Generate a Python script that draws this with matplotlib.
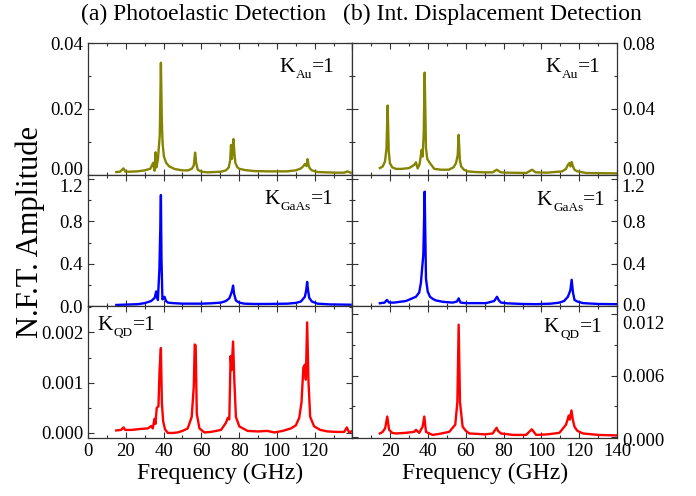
#N.F.T. spectra for the three sensitivity kernels, photoelastic vs displacement detection
import numpy as np
import matplotlib.pyplot as plt
from matplotlib.ticker import MultipleLocator, FormatStrFormatter
from matplotlib.transforms import ScaledTranslation

plt.rcParams.update({'font.family': 'Liberation Serif',
                     'font.size': 13.5})

# (a) photoelastic, K_Au=1
pe_au_f = [15, 17, 18.8, 19.8, 22, 26, 30, 33, 34.5, 35.2, 35.8, 36.2, 37, 38, 38.6, 39.1, 39.5, 40.2, 41.4, 43,
           46, 50, 53, 55, 56, 56.7, 57.3, 58.1, 60, 63.4, 67, 70.4, 73, 74.5, 75.3, 75.7, 76.2, 76.6, 77, 77.5,
           78, 79, 80, 83, 88, 95, 105, 110, 112.7, 114, 114.8, 115.4, 115.7, 116.2, 116.8, 117.4, 118.5, 121.5,
           126, 132, 135.6, 137.3, 139]
pe_au_a = [0.0008, 0.0009, 0.0019, 0.0009, 0.0009, 0.001, 0.0013, 0.0018, 0.0036, 0.0012, 0.0068, 0.0022, 0.0045,
           0.012, 0.034, 0.016, 0.0095, 0.0055, 0.0036, 0.0025, 0.0017, 0.0013, 0.0013, 0.0018, 0.0028, 0.0067,
           0.0035, 0.0015, 0.0009, 0.0007, 0.0008, 0.0009, 0.0013, 0.0022, 0.0045, 0.009, 0.0048, 0.0085, 0.0108,
           0.0065, 0.0036, 0.0023, 0.0018, 0.0014, 0.0011, 0.001, 0.001, 0.0013, 0.0019, 0.0026, 0.0032, 0.0028,
           0.0026, 0.0047, 0.0028, 0.0019, 0.0013, 0.0008, 0.0007, 0.0006, 0.0006, 0.001, 0.0006]

# (b) int. displacement, K_Au=1
id_au_f = [14.5, 16, 17.2, 18, 18.6, 19.2, 19.8, 21, 23, 26, 30, 32.7, 33.6, 34.5, 35.5, 36.6, 37.1, 37.7, 38.2, 38.9,
           39.6, 41, 43.3, 47, 51, 53.5, 54.8, 55.7, 56.2, 56.8, 57.5, 59, 61, 65, 70, 74.2, 76.3, 78.6, 82, 88,
           92, 95, 97, 103, 111, 113, 114, 114.8, 115.4, 116, 116.7, 117.5, 119, 123.7, 130, 139.6]
id_au_a = [0.004, 0.005, 0.008, 0.016, 0.042, 0.014, 0.007, 0.0045, 0.0035, 0.0035, 0.004, 0.006, 0.0075, 0.0038,
           0.0063, 0.015, 0.011, 0.025, 0.062, 0.016, 0.0095, 0.007, 0.0035, 0.003, 0.003, 0.0045, 0.007, 0.012,
           0.0242, 0.009, 0.005, 0.003, 0.002, 0.0016, 0.0014, 0.0014, 0.003, 0.0014, 0.0012, 0.0011, 0.001, 0.003,
           0.0014, 0.0012, 0.002, 0.0035, 0.006, 0.007, 0.005, 0.0077, 0.005, 0.003, 0.002, 0.001, 0.0009, 0.0008]

# (a) photoelastic, K_GaAs=1
pe_gaas_f = [15, 20, 26.4, 30, 33.5, 35.3, 36.1, 37, 37.8, 38.3, 38.6, 38.9, 39.4, 40.5, 41.3, 42.3, 45, 50, 55, 60,
             65, 70.4, 73, 74.8, 75.8, 76.3, 76.8, 77.3, 78.3, 80, 82.7, 88, 95, 105.6, 110, 112.7, 114.8, 115.5,
             116, 116.5, 117.1, 118.5, 121.5, 128, 139]
pe_gaas_a = [0.013, 0.016, 0.02, 0.03, 0.05, 0.08, 0.14, 0.06, 0.35, 0.75, 1.048, 0.45, 0.065, 0.09, 0.05, 0.035,
             0.03, 0.025, 0.025, 0.025, 0.028, 0.035, 0.05, 0.075, 0.12, 0.15, 0.195, 0.12, 0.054, 0.035, 0.025,
             0.022, 0.022, 0.025, 0.032, 0.045, 0.09, 0.15, 0.23, 0.15, 0.08, 0.045, 0.025, 0.018, 0.015]

# (b) int. displacement, K_GaAs=1
id_gaas_f = [14.5, 17, 18.2, 19.4, 22, 28.3, 33.6, 35.3, 36.2, 37.5, 38.2, 38.9, 39.8, 41, 42.5, 44.2, 48, 53, 55.3,
             56.2, 57.2, 60, 65, 70.7, 75, 76.5, 77.5, 78.6, 82, 90, 97.2, 105, 109.5, 112, 114, 115.3, 116, 116.7,
             117.5, 119, 122, 130, 139.6]
id_gaas_a = [0.029, 0.035, 0.06, 0.035, 0.035, 0.05, 0.09, 0.13, 0.22, 0.49, 1.08, 0.26, 0.14, 0.09, 0.07, 0.055,
             0.042, 0.035, 0.045, 0.075, 0.035, 0.03, 0.03, 0.03, 0.05, 0.09, 0.055, 0.035, 0.028, 0.022, 0.02,
             0.025, 0.035, 0.05, 0.09, 0.15, 0.25, 0.13, 0.06, 0.045, 0.03, 0.022, 0.02]

# (a) photoelastic, K_QD=1
pe_qd_f = [15, 17.5, 18.8, 19.7, 23, 28, 31.7, 33.5, 34.3, 35.2, 35.7, 36.4, 37.3, 37.9, 38.6, 39.1, 39.8, 40.8,
           42.3, 45, 47.5, 50, 52.8, 54.9, 56, 56.5, 57, 57.6, 59, 61.6, 65, 70.4, 73, 74, 74.8, 75.5, 76, 76.8,
           77.5, 78.3, 80.1, 84.5, 90, 95, 98.6, 103, 107.4, 110, 111.8, 113, 114, 114.8, 115.3, 116, 116.7, 117.6,
           119.7, 123, 126.8, 132, 135.6, 137, 138.2, 140]
pe_qd_a = [0.00005, 0.00006, 0.00011, 0.00006, 0.00006, 0.00008, 0.00009, 0.00014, 0.00009, 0.00028, 0.00018,
           0.0005, 0.00053, 0.00126, 0.00169, 0.0006, 0.00023, 0.00007, 0.0, 0.0, 0.00001, 0.00004, 0.00009,
           0.00032, 0.00093, 0.00176, 0.00174, 0.00038, 0.00009, 0.00001, 0.00002, 0.00006, 0.0002, 0.0003,
           0.00027, 0.00153, 0.00125, 0.00182, 0.001, 0.00032, 0.00013, 0.00004, 0.00003, 0.00004, 0.00001,
           0.00004, 0.00009, 0.00015, 0.0003, 0.0006, 0.0013, 0.00136, 0.00106, 0.0022, 0.00103, 0.00032, 0.00013,
           0.00006, 0.00003, 0.00002, 0.00002, 0.00011, 0.00001, 0.00004]

# (b) int. displacement, K_QD=1
id_qd_f = [14.5, 16, 17.3, 18.4, 19.4, 21, 23, 28, 32.7, 33.6, 35.3, 37.1, 38, 38.9, 40, 42.4, 46, 51.2, 54.4, 55.5,
           56.2, 56.9, 58.3, 60, 61.8, 66, 70, 74.2, 76.3, 77, 78.6, 85, 91.9, 94.9, 97.2, 103, 109.5, 113, 114.5,
           115, 115.9, 116.6, 117.5, 119, 122, 130, 139.6]
id_qd_a = [0.00034, 0.0005, 0.00086, 0.002, 0.0007, 0.0004, 0.00034, 0.0004, 0.0005, 0.0007, 0.0004, 0.001, 0.002,
           0.0005, 0.0004, 0.0002, 0.0003, 0.0005, 0.0012, 0.0034, 0.011, 0.0034, 0.001, 0.0006, 0.00034, 0.0003,
           0.00025, 0.00034, 0.0009, 0.0006, 0.00034, 0.0002, 0.0002, 0.00075, 0.0002, 0.00025, 0.0004, 0.0012,
           0.0021, 0.0017, 0.0026, 0.0017, 0.001, 0.0006, 0.00034, 0.0002, 0.00015]

left_xlabels = ['0', '20', '40', '60', '80', '100', '120', '']
right_xlabels = ['', '20', '40', '60', '80', '100', '120', '140']

olive = '#848400'
rows = [
    # (freq, amp, colour, ylim, major, minor, fmt, subscript, label pos, ha, tick label shifts in px)
    [(pe_au_f, pe_au_a, olive, (0, 0.04), 0.02, 0.01, '%.2f', 'Au', (0.93, 0.78), 'right', {0.0: 6}),
     (id_au_f, id_au_a, olive, (0, 0.08), 0.04, 0.02, '%.2f', 'Au', (0.935, 0.78), 'right', {0.0: 6})],
    [(pe_gaas_f, pe_gaas_a, 'blue', (0, 1.24), 0.4, 0.2, '%.1f', 'GaAs', (0.925, 0.78), 'right', {1.2: -7}),
     (id_gaas_f, id_gaas_a, 'blue', (0, 1.24), 0.4, 0.2, '%.1f', 'GaAs', (0.955, 0.77), 'right',
      {1.2: -7, 0.0: 2})],
    [(pe_qd_f, pe_qd_a, 'red', (-0.0001, 0.00252), 0.001, 0.0005, '%.3f', 'QD', (0.034, 0.82), 'left', {}),
     (id_qd_f, id_qd_a, 'red', (-0.0001, 0.0128), 0.006, 0.003, '%.3f', 'QD', (0.94, 0.805), 'right',
      {0.012: -8, 0.0: -3})],
]

fig, axes = plt.subplots(3, 2, figsize=(6.96, 4.96), dpi=100)
fig.subplots_adjust(left=0.1264, right=0.8865, top=0.9133, bottom=0.117, hspace=0, wspace=0)
renderer = fig.canvas.get_renderer()


def shifted(ax, dx, dy):
    # axes coords plus an offset in pixels
    return ax.transAxes + ScaledTranslation(dx / fig.dpi, dy / fig.dpi, fig.dpi_scale_trans)


def k_label(ax, x, y, sub, ha):
    # "K" with a small, dropped subscript, then "=1"
    parts = [('K', 15.5, 0), (sub, 9.5, -6), ('=1', 15.5, 0)]
    texts = [ax.text(x, y, s, fontsize=fs, va='baseline', transform=ax.transAxes) for s, fs, dy in parts]
    widths = [t.get_window_extent(renderer).width for t in texts]
    dx = -sum(widths) if ha == 'right' else 0
    for t, w, (s, fs, dy) in zip(texts, widths, parts):
        t.set_transform(shifted(ax, dx, dy))
        dx += w + (1 if s == 'K' else 0)


for i in range(3):
    for j in range(2):
        ax = axes[i][j]
        f, a, col, ylim, maj, mnr, fmt, sub, pos, ha, shifts = rows[i][j]
        ax.plot(f, a, color=col, linewidth=1.7)
        ax.set_xlim(0, 140)
        ax.set_ylim(*ylim)
        ax.set_xticks(np.arange(0, 141, 20))
        ax.xaxis.set_minor_locator(MultipleLocator(10))
        ax.yaxis.set_major_locator(MultipleLocator(maj))
        ax.yaxis.set_minor_locator(MultipleLocator(mnr))
        ax.yaxis.set_major_formatter(FormatStrFormatter(fmt))
        ax.tick_params(which='both', direction='in', top=True, right=True, left=True, width=0.8, color='#333333')
        ax.tick_params(which='major', length=4)
        ax.tick_params(which='minor', length=2.5)
        for s in ax.spines.values():
            s.set_color('#333333')
            s.set_linewidth(0.9)
        if j == 1:
            ax.tick_params(labelleft=False, labelright=True)
        if i == 2:
            ax.set_xticklabels(left_xlabels if j == 0 else right_xlabels)
            ax.set_xlabel('Frequency (GHz)', fontsize=17, labelpad=2)
        else:
            ax.tick_params(labelbottom=False)
        # nudge the edge labels apart like the original
        locs = list(ax.yaxis.get_majorticklocs())
        ticks = ax.yaxis.get_major_ticks(len(locs))
        for val, dy in shifts.items():
            k = int(np.argmin(np.abs(np.array(locs) - val)))
            lbl = ticks[k].label2 if j == 1 else ticks[k].label1
            lbl.set_transform(lbl.get_transform() + ScaledTranslation(0, dy / fig.dpi, fig.dpi_scale_trans))
        k_label(ax, pos[0], pos[1], sub, ha)

fig.text(0.293, 0.970, '(a) Photoelastic Detection', ha='center', va='center', fontsize=17)
fig.text(0.707, 0.970, '(b) Int. Displacement Detection', ha='center', va='center', fontsize=17)
fig.text(0.043, 0.532, 'N.F.T. Amplitude', rotation=90, ha='center', va='center', fontsize=22)

plt.savefig('out.png', dpi=100)
